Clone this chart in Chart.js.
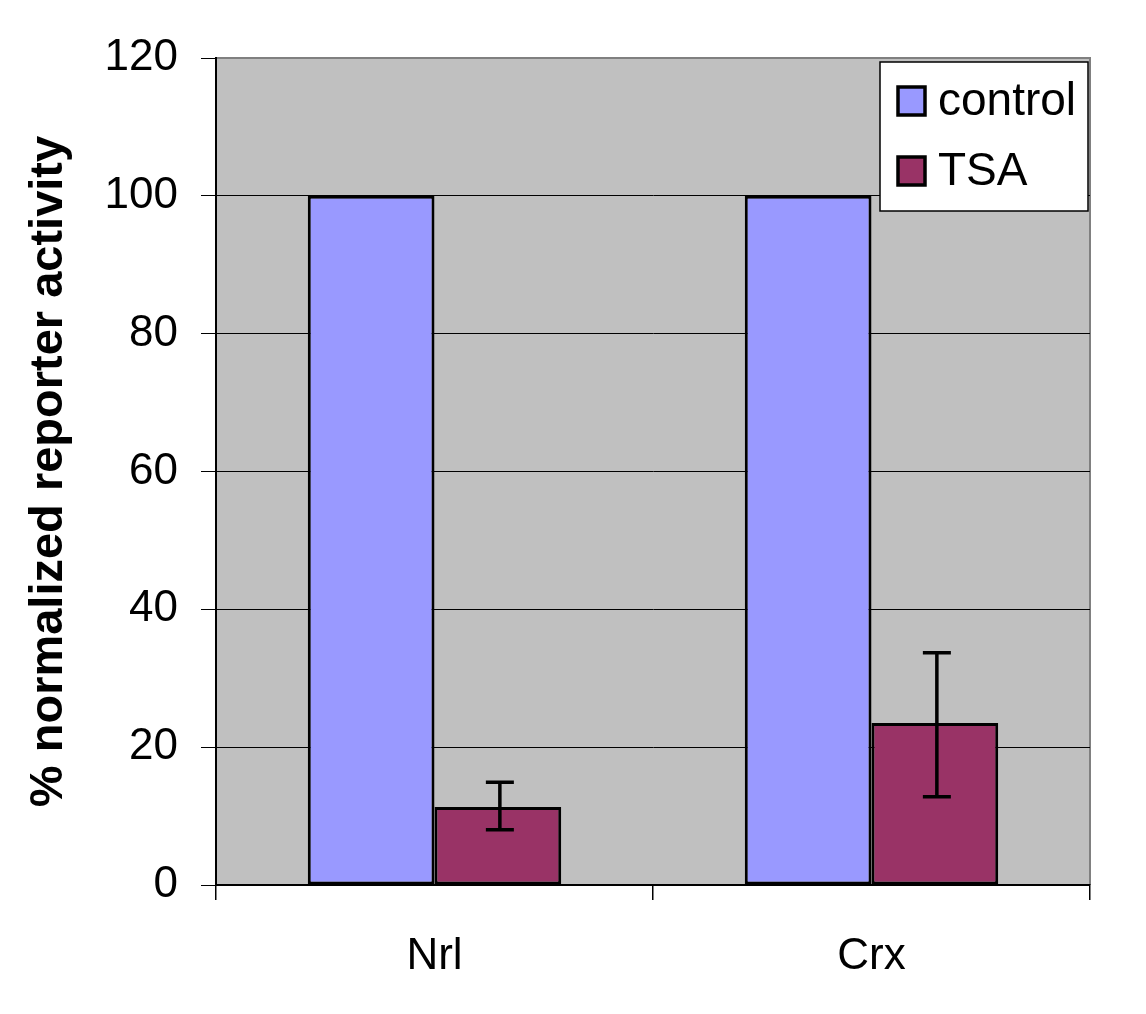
<!DOCTYPE html>
<html>
<head>
<meta charset="utf-8">
<script src="https://cdn.jsdelivr.net/npm/chart.js@4.4.0/dist/chart.umd.min.js"></script>
<style>
  html, body { margin: 0; padding: 0; background: #fff; }
</style>
</head>
<body>
<canvas id="chart" width="1146" height="1014"></canvas>
<script>
const genes = ["Nrl", "Crx"];
const control = [100, 100];
const tsa = [11.3, 23.5];
const tsaLow = [8.0, 12.8];   // error bar bottom
const tsaHigh = [14.9, 33.7]; // error bar top
const yTicks = [0, 20, 40, 60, 80, 100, 120];

const FONT = "'Liberation Sans', Arial, sans-serif";

// gray plot background + border
const plotBg = {
    id: 'plotBg',
    beforeDraw(chart) {
        const a = chart.chartArea, c = chart.ctx;
        c.save();
        c.fillStyle = '#c0c0c0';
        c.fillRect(a.left, a.top, a.right - a.left, a.bottom - a.top);
        c.strokeStyle = '#808080';
        c.lineWidth = 2;
        c.beginPath();
        c.moveTo(a.left, a.top);
        c.lineTo(a.right, a.top);
        c.lineTo(a.right, a.bottom);
        c.stroke();
        c.restore();
    }
};

// error bars on the TSA series
const errorBars = {
    id: 'errorBars',
    afterDatasetsDraw(chart) {
        const meta = chart.getDatasetMeta(1);
        const y = chart.scales.y, c = chart.ctx;
        c.save();
        c.strokeStyle = '#000';
        c.lineWidth = 3.5;
        meta.data.forEach((bar, i) => {
            const x = bar.x + 2;
            const top = y.getPixelForValue(tsaHigh[i]);
            const bot = y.getPixelForValue(tsaLow[i]);
            c.beginPath();
            c.moveTo(x, top); c.lineTo(x, bot);
            c.moveTo(x - 14, top); c.lineTo(x + 14, top);
            c.moveTo(x - 14, bot); c.lineTo(x + 14, bot);
            c.stroke();
        });
        c.restore();
    }
};

// boxed legend inside the plot, top right
const boxLegend = {
    id: 'boxLegend',
    afterDraw(chart) {
        const c = chart.ctx;
        const bx = 880, by = 62, bw = 208, bh = 149;
        c.save();
        c.fillStyle = '#fff';
        c.fillRect(bx, by, bw, bh);
        c.strokeStyle = '#000';
        c.lineWidth = 1.5;
        c.strokeRect(bx, by, bw, bh);
        c.font = '46px ' + FONT;
        c.textBaseline = 'middle';
        chart.data.datasets.forEach((ds, i) => {
            const cy = 101 + i * 70;
            c.fillStyle = ds.backgroundColor;
            c.fillRect(898, cy - 14, 27, 28);
            c.lineWidth = 3.5;
            c.strokeStyle = '#000';
            c.strokeRect(898, cy - 14, 27, 28);
            c.fillStyle = '#000';
            c.fillText(ds.label, 938, cy + 1);
        });
        c.restore();
    }
};

new Chart(document.getElementById('chart'), {
    type: 'bar',
    data: {
        labels: genes,
        datasets: [
            {
                label: 'control',
                data: control,
                backgroundColor: '#9999ff',
                borderColor: '#000',
                borderWidth: 3,
                borderSkipped: false
            },
            {
                label: 'TSA',
                data: tsa,
                backgroundColor: '#993366',
                borderColor: '#000',
                borderWidth: 3,
                borderSkipped: false
            }
        ]
    },
    options: {
        responsive: false,
        animation: false,
        devicePixelRatio: 1,
        layout: { padding: { top: 58, right: 56, left: 0, bottom: 0 } },
        datasets: { bar: { categoryPercentage: 0.58, barPercentage: 1.0 } },
        elements: { bar: { borderWidth: 3 } },
        scales: {
            x: {
                grid: {
                    offset: true,
                    drawOnChartArea: false,
                    tickLength: 15,
                    color: '#000',
                    lineWidth: 1.5
                },
                border: { color: '#000', width: 2 },
                ticks: {
                    color: '#000',
                    padding: 30,
                    font: { family: FONT, size: 44 }
                },
                afterFit(scale) { scale.height = 129; }
            },
            y: {
                min: 0,
                max: 120,
                afterBuildTicks(scale) { scale.ticks = yTicks.map(v => ({ value: v })); },
                grid: {
                    color: ctx => ctx.tick && ctx.tick.value === 120 ? 'rgba(0,0,0,0)' : '#000',
                    tickColor: '#000',
                    tickLength: 15,
                    lineWidth: 1
                },
                border: { color: '#000', width: 2 },
                ticks: {
                    color: '#000',
                    padding: 23,
                    font: { family: FONT, size: 44 }
                },
                title: {
                    display: true,
                    text: '% normalized reporter activity',
                    color: '#000',
                    padding: { top: 21, bottom: 0 },
                    font: { family: FONT, size: 47, weight: 'bold' }
                },
                afterFit(scale) { scale.width = 216; }
            }
        },
        plugins: {
            legend: { display: false },
            tooltip: { enabled: false }
        }
    },
    plugins: [plotBg, errorBars, boxLegend]
});
</script>
</body>
</html>
